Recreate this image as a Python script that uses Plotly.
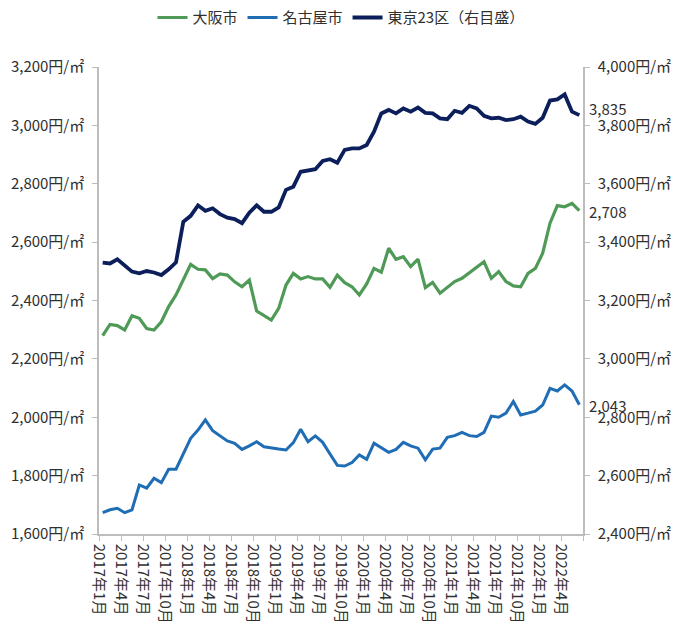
import pandas as pd
import plotly.graph_objects as go

# Monthly land-price index, Jan 2017 - Jun 2022 (円/㎡)
months = pd.date_range("2017-01-01", periods=66, freq="MS")

osaka = [2280, 2318, 2314, 2299, 2348, 2339, 2304, 2299, 2327, 2379,
         2419, 2470, 2524, 2507, 2505, 2475, 2491, 2487, 2464, 2447,
         2470, 2364, 2350, 2333, 2373, 2453, 2493, 2474, 2482, 2474,
         2474, 2445, 2487, 2461, 2447, 2419, 2457, 2510, 2497, 2579,
         2541, 2550, 2516, 2542, 2444, 2462, 2425, 2445, 2465, 2476,
         2495, 2516, 2533, 2476, 2499, 2465, 2450, 2447, 2493, 2510,
         2562, 2665, 2725, 2721, 2733, 2708]

nagoya = [1673, 1683, 1688, 1673, 1683, 1768, 1757, 1791, 1776, 1822,
          1822, 1877, 1928, 1956, 1991, 1954, 1936, 1919, 1911, 1890,
          1902, 1916, 1899, 1894, 1891, 1888, 1913, 1959, 1916, 1936,
          1914, 1874, 1835, 1833, 1845, 1871, 1856, 1911, 1896, 1880,
          1890, 1914, 1902, 1894, 1854, 1891, 1894, 1931, 1937, 1948,
          1937, 1934, 1948, 2004, 2000, 2014, 2054, 2008, 2014, 2021,
          2042, 2099, 2090, 2111, 2090, 2043]

tokyo = [3330, 3327, 3341, 3322, 3299, 3293, 3301, 3296, 3287, 3307,
         3331, 3470, 3490, 3526, 3507, 3516, 3496, 3484, 3479, 3465,
         3501, 3526, 3504, 3504, 3519, 3579, 3590, 3641, 3645, 3650,
         3678, 3684, 3672, 3716, 3721, 3721, 3733, 3778, 3841, 3853,
         3841, 3858, 3847, 3861, 3843, 3841, 3824, 3821, 3850, 3843,
         3867, 3858, 3833, 3824, 3826, 3818, 3821, 3830, 3813, 3805,
         3826, 3885, 3889, 3906, 3847, 3835]

# (legend name, values, colour, line width, y axis)
series = [
    ("大阪市", osaka, "#4E9A56", 3.2, "y"),
    ("名古屋市", nagoya, "#1F6DB5", 3.0, "y"),
    ("東京23区（右目盛）", tokyo, "#0C1F5B", 3.8, "y2"),
]

FONT = "Noto Sans CJK JP"
TXT = "#303030"
AXIS = "#bdbdbd"
FS = 15

idx = list(range(len(months)))
fig = go.Figure()
for name, vals, color, width, yax in series:
    fig.add_trace(go.Scatter(
        x=idx, y=vals, name=name, mode="lines", yaxis=yax,
        line=dict(color=color, width=width),
    ))

# value labels at the last month of each series
for name, vals, color, width, yax in series:
    shift = 7 if yax == "y2" else -1
    fig.add_annotation(
        x=idx[-1], y=vals[-1], yref=yax, xref="x",
        text=f"{vals[-1]:,}", showarrow=False,
        xanchor="left", xshift=8, yshift=shift,
        font=dict(family=FONT, size=FS, color=TXT),
    )

tick_pos = [i - 0.5 for i in idx[::3]]
tick_txt = [f"{d.year}年{d.month}月" for d in months[::3]]

axis_common = dict(
    ticks="outside", ticklen=5, tickcolor=AXIS,
    showline=True, linecolor=AXIS, linewidth=1.5,
    showgrid=False, zeroline=False, automargin=False,
    tickfont=dict(family=FONT, size=FS, color=TXT),
)

fig.update_layout(
    width=674, height=623,
    margin=dict(l=99, r=91, t=67, b=89),
    paper_bgcolor="white", plot_bgcolor="white",
    font=dict(family=FONT, size=FS, color=TXT),
    showlegend=True,
    legend=dict(
        orientation="h", x=0.5, xanchor="center",
        y=0.998, yanchor="top", yref="container",
        font=dict(size=FS, color=TXT),
        itemwidth=30, tracegroupgap=0,
    ),
    xaxis=dict(
        range=[-0.5, len(months) - 0.5],
        tickmode="array", tickvals=tick_pos + [len(months) - 0.5],
        ticktext=tick_txt + [""],
        tickangle=90,
        **axis_common,
    ),
    yaxis=dict(
        range=[1600, 3200], dtick=200, tickformat=",d", ticksuffix="円/㎡",
        ticklabelstandoff=5,
        **axis_common,
    ),
    yaxis2=dict(
        range=[2400, 4000], dtick=200, tickformat=",d", ticksuffix="円/㎡",
        overlaying="y", side="right", ticklabelstandoff=5,
        **axis_common,
    ),
)

fig.write_html("out.html")
